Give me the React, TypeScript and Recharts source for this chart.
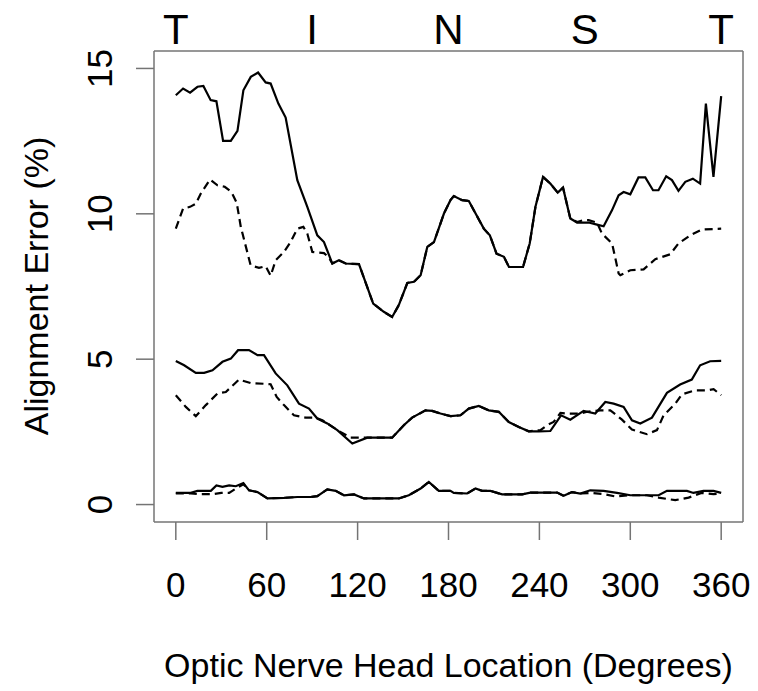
import React from 'react';
import { LineChart, Line, XAxis, YAxis } from 'recharts';

const xTicks = [0, 60, 120, 180, 240, 300, 360];
const yTicks = [0, 5, 10, 15];
const topTickDegrees = [0, 90, 180, 270, 360];
const topTickLabels = ['T', 'I', 'N', 'S', 'T'];
const xTitle = 'Optic Nerve Head Location (Degrees)';
const yTitle = 'Alignment Error (%)';

const toPts = (arr: number[][]) => arr.map(([x, y]) => ({ x, y }));

const topSolid = toPts([[0,14.08],[4.8,14.31],[9.4,14.17],[14.3,14.37],[18.2,14.40],[23,13.91],[26.8,13.87],[31.2,12.51],[36.3,12.51],[40.7,12.85],[44.6,14.25],[49.5,14.71],[54.3,14.86],[59.3,14.52],[62.6,14.48],[67.7,13.79],[72.5,13.31],[80.2,11.16],[86.8,10.24],[93.4,9.26],[97.8,9.03],[103.3,8.29],[107.7,8.40],[112.1,8.29],[120.9,8.27],[130.3,6.91],[137.3,6.63],[142.8,6.45],[147.2,6.86],[152.8,7.62],[157.2,7.66],[161.6,7.89],[166,8.86],[170.4,9.03],[177,10.01],[181.3,10.47],[183.5,10.61],[189,10.47],[193.4,10.44],[203.3,9.49],[207.3,9.26],[211.7,8.63],[216.6,8.52],[219.9,8.17],[229.2,8.17],[233.6,8.98],[237.4,10.24],[242.4,11.27],[247.2,11.04],[252.1,10.73],[255.6,10.9],[260.4,9.84],[264.9,9.70],[272.5,9.70],[278,9.63],[282.4,9.57],[287.9,10.12],[292.3,10.64],[295.6,10.75],[300,10.67],[305.4,11.25],[309.9,11.25],[315,10.81],[318.6,10.81],[323.7,11.29],[327.5,11.16],[331.8,10.79],[336.3,11.10],[341.3,11.21],[346.1,11.04],[349.9,13.79],[354.9,11.27],[360,14.05]]);

const topDashed = toPts([[0,9.49],[4.8,10.18],[9.4,10.24],[13.2,10.35],[16.5,10.70],[22.6,11.18],[27.5,10.98],[32.3,10.93],[36.7,10.75],[40.2,10.38],[42.9,9.55],[49.4,8.23],[54.9,8.14],[59.3,8.20],[62.6,7.87],[65.9,8.40],[71.4,8.69],[75.8,9.03],[80.2,9.49],[84.2,9.55],[86.8,9.32],[90.1,8.69],[97.8,8.65],[101,8.5],[103.3,8.29],[107.7,8.40],[112.1,8.29],[120.9,8.27],[130.3,6.91],[137.3,6.63],[142.8,6.45],[147.2,6.86],[152.8,7.62],[157.2,7.66],[161.6,7.89],[166,8.86],[170.4,9.03],[177,10.01],[181.3,10.47],[183.5,10.61],[189,10.47],[193.4,10.44],[203.3,9.49],[207.3,9.26],[211.7,8.63],[216.6,8.52],[219.9,8.17],[229.2,8.17],[233.6,8.98],[237.4,10.24],[242.4,11.27],[247.2,11.04],[252.1,10.73],[255.6,10.9],[260.4,9.84],[264.9,9.72],[269,9.78],[272.5,9.78],[278,9.70],[281.3,9.32],[288,8.98],[292.3,7.95],[293.4,7.89],[300,8.06],[308.8,8.09],[316.5,8.44],[326.4,8.61],[331.8,8.98],[339.6,9.26],[347.3,9.46],[360,9.49]]);

const midSolid = toPts([[0,4.94],[5.5,4.79],[13.2,4.53],[18.7,4.53],[24.2,4.62],[30.8,4.91],[36.3,5.02],[41.1,5.31],[48.3,5.31],[53.9,5.14],[58.2,5.14],[65.9,4.51],[73.6,4.10],[81.3,3.47],[87.9,3.30],[93.4,2.96],[100,2.79],[106.6,2.56],[116.5,2.10],[126.4,2.30],[142.8,2.30],[150.5,2.73],[156,2.99],[164.8,3.24],[169.2,3.22],[174.7,3.13],[181.3,3.04],[187.9,3.07],[193.4,3.30],[200,3.39],[206.6,3.24],[213.2,3.19],[219.8,2.84],[226.4,2.67],[233,2.52],[239.6,2.52],[247.2,2.53],[254.3,3.07],[260.4,2.92],[269.2,3.22],[276.9,3.13],[283.5,3.53],[289,3.47],[295.6,3.36],[301.1,2.90],[306.6,2.79],[314.3,2.99],[324.2,3.84],[332.9,4.13],[340.6,4.30],[346.1,4.79],[352.7,4.93],[360,4.94]]);

const midDashed = toPts([[0,3.76],[6.6,3.36],[13.2,3.04],[19.8,3.42],[27.5,3.82],[33,3.87],[41.7,4.30],[49.4,4.18],[62.6,4.14],[66.6,3.70],[71.4,3.42],[78,3.07],[85.7,2.99],[92.3,2.99],[96.7,2.90],[100,2.79],[106.6,2.56],[115.4,2.30],[124.2,2.30],[142.8,2.30],[150.5,2.73],[156,2.99],[164.8,3.24],[169.2,3.22],[174.7,3.13],[181.3,3.04],[187.9,3.07],[193.4,3.30],[200,3.39],[206.6,3.24],[213.2,3.19],[219.8,2.84],[226.4,2.67],[233,2.52],[240.7,2.56],[245.1,2.73],[249.4,2.84],[253.9,3.15],[258.3,3.13],[267.1,3.13],[271.5,3.19],[280.2,3.24],[286.8,3.24],[289,3.15],[294.5,2.92],[301.1,2.58],[311,2.42],[317.6,2.56],[322,3.07],[329.7,3.47],[334.1,3.79],[342.9,3.93],[350.6,3.93],[355,3.97],[360,3.76]]);

const botSolid = toPts([[0,0.40],[9.9,0.40],[14.3,0.47],[23.1,0.47],[26.8,0.66],[30.8,0.61],[35.2,0.66],[39.6,0.63],[44.6,0.74],[48.3,0.49],[53.9,0.43],[60.5,0.21],[71.4,0.23],[80.2,0.26],[89,0.26],[93.4,0.29],[100,0.52],[105.5,0.47],[111,0.32],[117.6,0.35],[124.2,0.21],[147.2,0.21],[153.8,0.32],[161.6,0.55],[167,0.78],[173.6,0.47],[181.3,0.47],[183.5,0.40],[192.3,0.38],[197.8,0.55],[202.2,0.47],[207.7,0.47],[215.4,0.35],[228.6,0.35],[234.1,0.41],[251.7,0.41],[256,0.30],[261.5,0.43],[267,0.38],[273.6,0.49],[282.4,0.47],[291.2,0.40],[300,0.32],[311,0.32],[318.7,0.32],[324.2,0.47],[337.4,0.47],[341.7,0.40],[348.3,0.47],[354.9,0.47],[360,0.40]]);

const botDashed = toPts([[0,0.38],[9.9,0.38],[14.3,0.36],[25,0.36],[30,0.40],[35.2,0.40],[39.6,0.55],[44.6,0.70],[48.3,0.49],[53.9,0.43],[60.5,0.21],[71.4,0.23],[80.2,0.26],[89,0.26],[93.4,0.29],[100,0.52],[105.5,0.47],[111,0.32],[117.6,0.35],[124.2,0.21],[147.2,0.21],[153.8,0.32],[161.6,0.55],[167,0.78],[173.6,0.47],[181.3,0.47],[183.5,0.40],[192.3,0.38],[197.8,0.55],[202.2,0.47],[207.7,0.47],[215.4,0.35],[228.6,0.35],[234.1,0.41],[251.7,0.41],[256,0.30],[261.5,0.43],[267,0.38],[273.6,0.40],[282.4,0.36],[290,0.28],[300,0.32],[311,0.32],[318.7,0.24],[329.7,0.15],[338.5,0.24],[347,0.40],[354.9,0.36],[360,0.38]]);

const FONT = '"Liberation Sans", Arial, Helvetica, sans-serif';
const AXIS = '#747474';

const XTick = (props: any) => (
  <text x={props.x} y={596.5} textAnchor="middle" fontSize={35} fontFamily={FONT} fill="#000">
    {props.payload.value}
  </text>
);

const TopTick = (props: any) => {
  const i = topTickDegrees.indexOf(props.payload.value);
  return (
    <text x={props.x} y={43.5} textAnchor="middle" fontSize={42} fontFamily={FONT} fill="#000">
      {topTickLabels[i]}
    </text>
  );
};

const YTick = (props: any) => (
  <text
    x={112.5}
    y={props.y}
    transform={`rotate(-90 112.5 ${props.y})`}
    textAnchor="middle"
    fontSize={35}
    fontFamily={FONT}
    fill="#000"
  >
    {props.payload.value}
  </text>
);

const series = [
  { data: topSolid, dash: undefined },
  { data: topDashed, dash: '8 5' },
  { data: midSolid, dash: undefined },
  { data: midDashed, dash: '8 5' },
  { data: botSolid, dash: undefined },
  { data: botDashed, dash: '8 5' },
];

export default function App() {
  return (
    <div style={{ position: 'absolute', left: 0, top: 0, width: 758, height: 691, background: '#fff' }}>
      <LineChart width={758} height={691} margin={{ top: 0, right: 0, bottom: 0, left: 0 }}>
        <XAxis
          xAxisId="bottom"
          dataKey="x"
          type="number"
          domain={[-14.4, 374.4]}
          allowDataOverflow
          ticks={xTicks}
          interval={0}
          height={169}
          tickSize={18}
          stroke={AXIS}
          strokeWidth={1.5}
          tick={<XTick />}
          label={{
            content: () => (
              <text x={448.5} y={676.5} textAnchor="middle" fontSize={34} fontFamily={FONT} fill="#000">
                {xTitle}
              </text>
            ),
          }}
        />
        <XAxis
          xAxisId="top"
          orientation="top"
          dataKey="x"
          type="number"
          domain={[-14.4, 374.4]}
          allowDataOverflow
          ticks={topTickDegrees}
          interval={0}
          height={51}
          tickLine={false}
          stroke={AXIS}
          strokeWidth={1.5}
          tick={<TopTick />}
        />
        <YAxis
          yAxisId="left"
          type="number"
          domain={[-0.6, 15.6]}
          allowDataOverflow
          ticks={yTicks}
          interval={0}
          width={154}
          tickSize={18}
          stroke={AXIS}
          strokeWidth={1.5}
          tick={<YTick />}
          label={{
            content: () => (
              <text
                x={48}
                y={286}
                transform="rotate(-90 48 286)"
                textAnchor="middle"
                fontSize={34}
                fontFamily={FONT}
                fill="#000"
              >
                {yTitle}
              </text>
            ),
          }}
        />
        <YAxis
          yAxisId="right"
          orientation="right"
          type="number"
          domain={[-0.6, 15.6]}
          allowDataOverflow
          width={15}
          tick={false}
          tickLine={false}
          stroke={AXIS}
          strokeWidth={1.5}
        />
        {series.map((s, i) => (
          <Line
            key={i}
            xAxisId="bottom"
            yAxisId="left"
            data={s.data}
            dataKey="y"
            type="linear"
            stroke="#000"
            strokeWidth={2.2}
            strokeDasharray={s.dash}
            dot={false}
            activeDot={false}
            isAnimationActive={false}
          />
        ))}
      </LineChart>
    </div>
  );
}
